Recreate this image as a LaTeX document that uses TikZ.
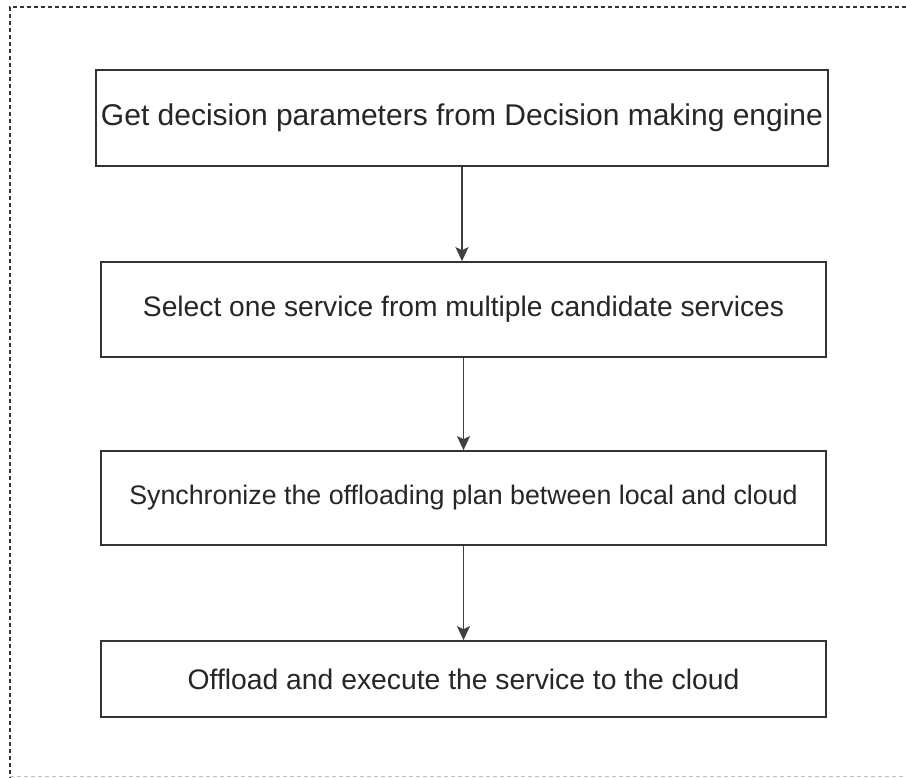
\documentclass[tikz,border=0pt]{standalone}
\usepackage{fontspec}
\setmainfont{Liberation Sans}
\usetikzlibrary{arrows.meta}
\begin{document}
\begin{tikzpicture}[x=1pt,y=-1pt,
  stepbox/.style={draw=black!80, line width=1.7pt, fill=white, inner sep=0pt,
    text=black!85, anchor=center},
  flow/.style={draw=black!75, line width=1.7pt,
    -{Stealth[length=14pt,width=13pt,inset=3pt]}},
  frame/.style={draw=black!80, line width=1.1pt, dash pattern=on 4pt off 3pt}]
\useasboundingbox (0,0) rectangle (906,778);
% outer dashed frame
\draw[frame] (906,7) -- (10,7) -- (10,778);
\draw[frame, draw=black!25] (10,776.5) -- (906,776.5);
% process steps
\node[stepbox, minimum width=732pt, minimum height=96pt] (s1) at (462,118)
  {\fontsize{30pt}{36pt}\selectfont Get decision parameters from Decision making engine};
\node[stepbox, minimum width=725pt, minimum height=95pt] (s2) at (463.5,309.5)
  {\fontsize{28.2pt}{34pt}\selectfont Select one service from multiple candidate services};
\node[stepbox, minimum width=725pt, minimum height=94pt] (s3) at (463.5,498)
  {\fontsize{26.8pt}{32pt}\selectfont Synchronize the offloading plan between local and cloud};
\node[stepbox, minimum width=725pt, minimum height=76pt] (s4) at (463.5,679)
  {\fontsize{28.3pt}{34pt}\selectfont Offload and execute the service to the cloud};
% connectors
\draw[flow] (s1.south) -- (s1.south |- s2.north);
\draw[flow] (s2.south) -- (s3.north);
\draw[flow] (s3.south) -- (s4.north);
\end{tikzpicture}
\end{document}
